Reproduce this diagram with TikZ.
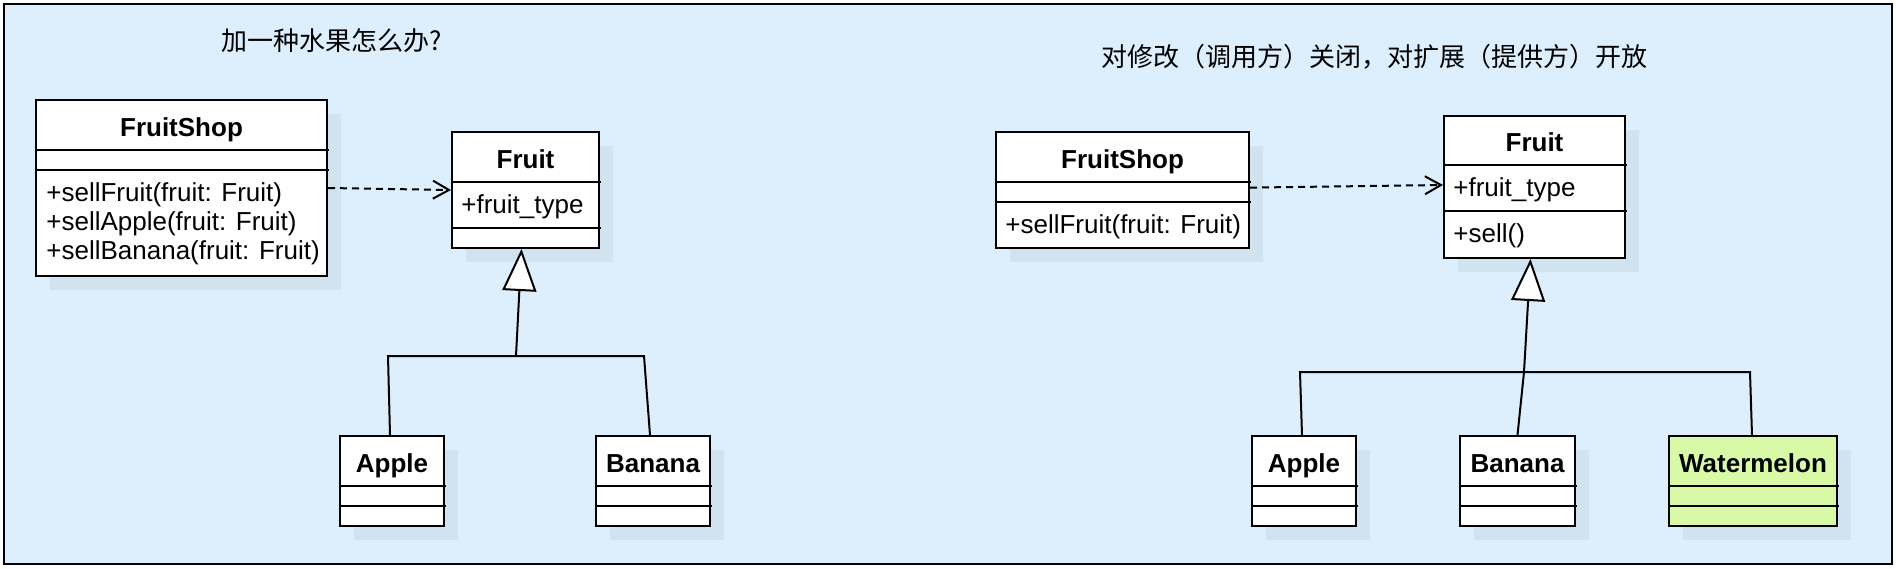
\documentclass[tikz,border=0pt]{standalone}
\usepackage{fontspec}
\setmainfont{Liberation Sans}
\newfontfamily\cjk{Noto Sans CJK SC}
\usetikzlibrary{arrows.meta,fit,shadows}
\definecolor{bgblue}{RGB}{221,239,252}
\definecolor{shadowc}{RGB}{210,227,240}
\definecolor{melon}{RGB}{216,250,166}
\newcommand{\umlclass}[9]{%
  \node[classbox, fill=#8, fit={(#2,#3) (#4,#5)}] (#1) {};
  \draw[divider] (#2,#6) -- ({#4+2},#6);
  \draw[divider] (#2,#7) -- ({#4+2},#7);
  \node[headtext] (#1-title) at ({(#2+#4)/2},{(#3+#6)/2}) {#9};
}
\begin{document}
\begin{tikzpicture}[x=0.5pt,y=-0.5pt,
  every node/.style={font=\fontsize{13}{14.75}\selectfont},
  frame/.style={draw, line width=1pt, fill=bgblue, inner sep=0pt},
  classbox/.style={draw, line width=1pt, inner sep=0pt,
    general shadow={fill=shadowc, shadow xshift=7pt, shadow yshift=-6.75pt}},
  divider/.style={line width=1pt},
  headtext/.style={font=\fontsize{13}{14.75}\selectfont\bfseries, inner sep=0pt,
    text height=11pt, text depth=0pt},
  membertext/.style={anchor=west, inner sep=0pt,
    text height=10.5pt, text depth=2.5pt},
  cjktext/.style={font=\fontsize{13}{15}\selectfont\cjk, inner sep=0pt},
  depend/.style={line width=1pt, dash pattern=on 3.5pt off 2.5pt,
    -{Straight Barb[length=8pt,width=9pt]}},
  genline/.style={line width=1pt},
  inherit/.style={line width=1pt, -{Triangle[length=21pt,width=17pt,fill=white]}},
]
\useasboundingbox (0,0) rectangle (1896,568);
\fill[white] (0,0) rectangle (1896,568);
\node[frame, fit={(3.5,4) (1892,563.5)}] (frame) {};

% titles
\node[cjktext] (t1) at (332,41) {加一种水果怎么办?};
\node[cjktext] (t2) at (1374,57) {对修改（调用方）关闭，对扩展（提供方）开放};

% left diagram
\umlclass{fs1}{36}{100}{327}{276}{150}{170}{white}{FruitShop}
\node[membertext] (fs1-m1) at (46,193) {+sellFruit(fruit: Fruit)};
\node[membertext] (fs1-m2) at (46,222) {+sellApple(fruit: Fruit)};
\node[membertext] (fs1-m3) at (46,251.5) {+sellBanana(fruit: Fruit)};
\umlclass{fruit1}{452}{132}{599}{248}{182}{228}{white}{Fruit}
\node[membertext] (fruit1-a) at (461,205) {+fruit\_type};
\umlclass{apple1}{340}{436}{444}{526}{486}{506}{white}{Apple}
\umlclass{banana1}{596}{436}{710}{526}{486}{506}{white}{Banana}

\draw[depend] (fs1.east) -- (fruit1.west);
\coordinate (j1) at (516,356);
\coordinate (j1a) at (388,356);
\coordinate (j1b) at (644,356);
\draw[genline] ([xshift=-1pt]apple1.north) -- (j1a) -- (j1b) -- ([xshift=-1.5pt]banana1.north);
\draw[inherit] (j1) -- ([xshift=-2pt]fruit1.south);

% right diagram
\umlclass{fs2}{996}{132}{1249}{248}{182}{202}{white}{FruitShop}
\node[membertext] (fs2-m) at (1005,225) {+sellFruit(fruit: Fruit)};
\umlclass{fruit2}{1444}{116}{1625}{258}{165}{211}{white}{Fruit}
\node[membertext] (fruit2-a) at (1453,188) {+fruit\_type};
\node[membertext] (fruit2-m) at (1453,234) {+sell()};
\umlclass{apple2}{1252}{436}{1356}{526}{486}{506}{white}{Apple}
\umlclass{banana2}{1460}{436}{1575}{526}{486}{506}{white}{Banana}
\umlclass{melon}{1669}{436}{1837}{526}{486}{506}{melon}{Watermelon}

\draw[depend] ([yshift=1.2pt]fs2.east) -- ([yshift=1pt]fruit2.west);
\coordinate (j2) at (1524,372);
\coordinate (j2a) at (1300,372);
\coordinate (j2b) at (1750,372);
\draw[genline] ([xshift=-1pt]apple2.north) -- (j2a) -- (j2b) -- ([xshift=-0.5pt]melon.north);
\draw[genline] (j2) -- (banana2.north);
\draw[inherit] (j2) -- ([xshift=-2pt]fruit2.south);
\end{tikzpicture}
\end{document}
